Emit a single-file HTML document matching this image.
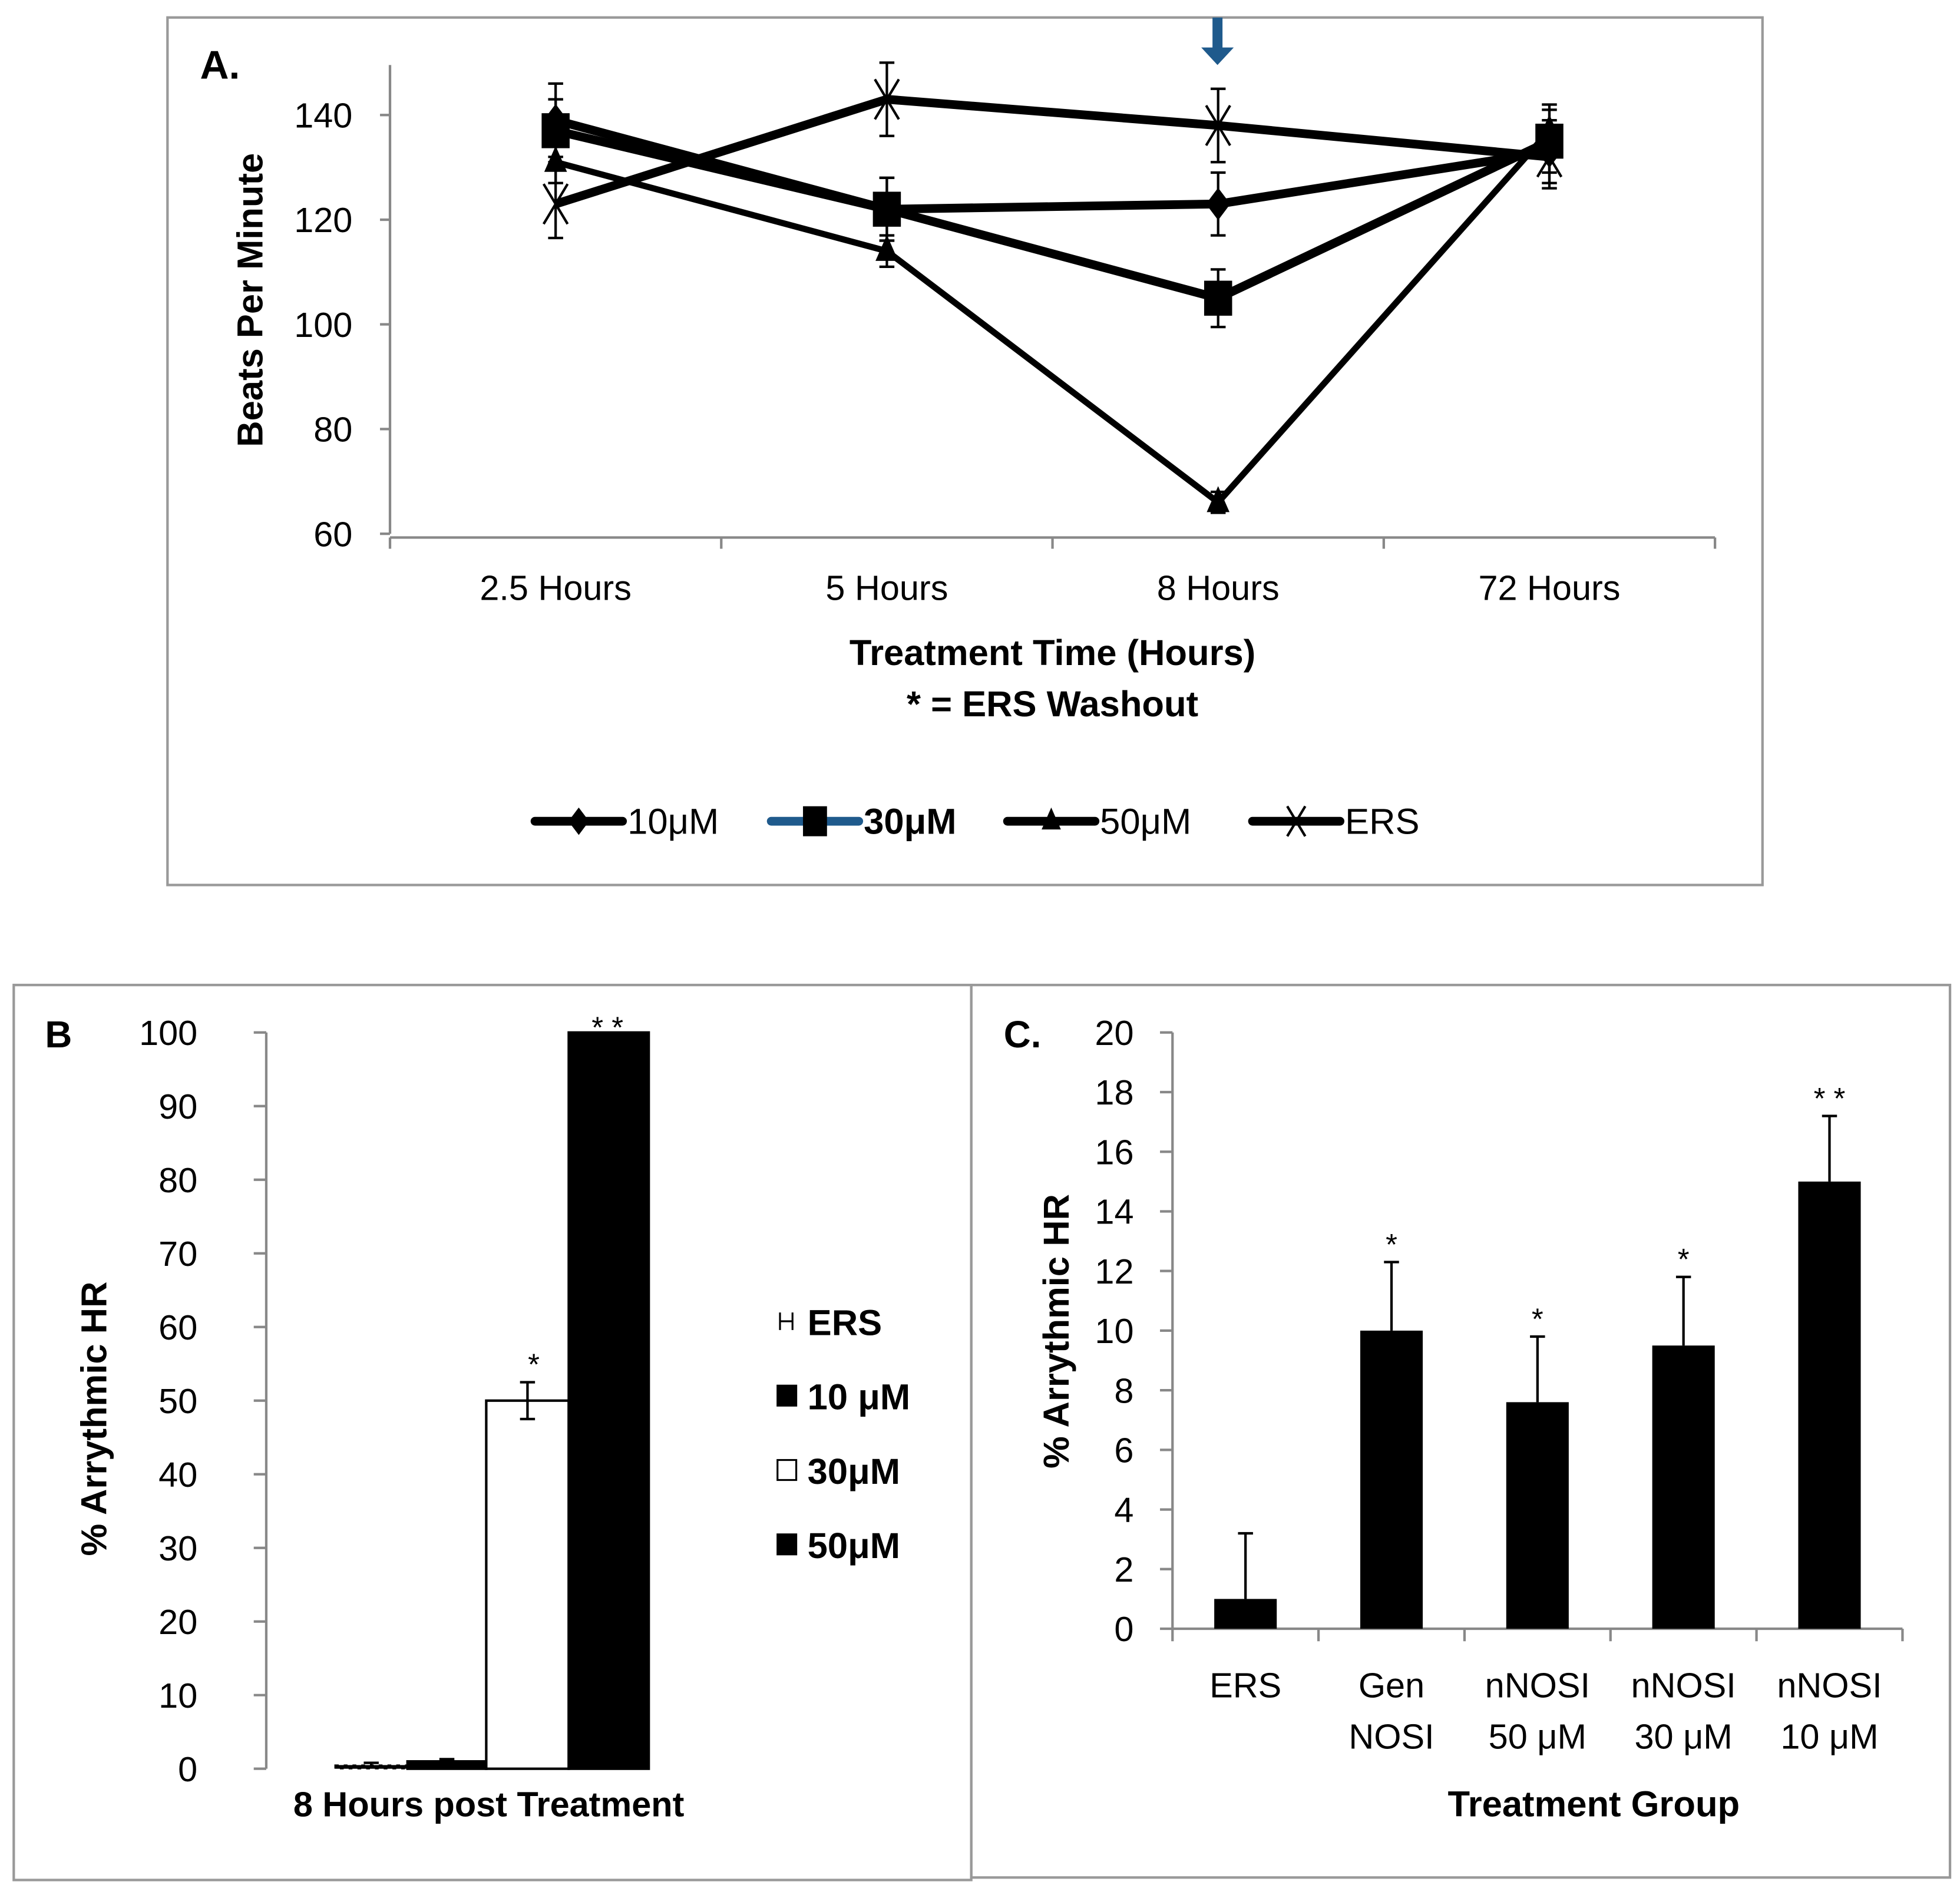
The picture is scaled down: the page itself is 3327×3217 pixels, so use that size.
<!DOCTYPE html>
<html><head><meta charset="utf-8">
<style>
html,body{margin:0;padding:0;background:#fff;}
svg{display:block;}
text{font-family:"Liberation Sans Narrow","Liberation Sans",sans-serif;fill:#000;}
</style></head>
<body>
<svg id="fig" xmlns="http://www.w3.org/2000/svg" width="3327" height="3217" viewBox="0 0 1568 1516" preserveAspectRatio="none">
<rect x="0" y="0" width="1568" height="1516" fill="#fff"/>
<rect x="134" y="14" width="1276" height="694" fill="none" stroke="#999" stroke-width="2"/>
<rect x="11" y="788" width="766" height="716" fill="none" stroke="#999" stroke-width="2"/>
<rect x="777" y="788" width="783" height="714" fill="none" stroke="#999" stroke-width="2"/>
<g id="gA"></g>
<g id="gB"></g>
<g id="gC"></g>
</svg>
<script>
// ---------- Panel A data ----------
const aCategories = ["2.5 Hours","5 Hours","8 Hours","72 Hours"];
const aTicks = [60,80,100,120,140];
const a10 = [139,122,123,133];
const a10err = [7,6,6,6];
const a30 = [137,122,105,135];
const a30err = [6,6,5.5,6];
const a50 = [131,114,66,137];
const a50err = [4,3,2,5];
const aERS = [123,143,138,132];
const aERSerr = [6.5,7,7,6];
// ---------- Panel B data ----------
const bSeries = ["ERS","10 μM","30μM","50μM"];
const bValues = [0.5,1,50,100];
const bErr = [0.3,0.3,2.5,0];
const bTicks = [0,10,20,30,40,50,60,70,80,90,100];
// ---------- Panel C data ----------
const cCat1 = ["ERS","Gen","nNOSI","nNOSI","nNOSI"];
const cCat2 = ["","NOSI","50 μM","30 μM","10 μM"];
const cValues = [1,10,7.6,9.5,15];
const cErr = [2.2,2.3,2.2,2.3,2.2];
const cStars = ["","*","*","*","* *"];
const cTicks = [0,2,4,6,8,10,12,14,16,18,20];

const NS="http://www.w3.org/2000/svg";
function mk(parent,tag,attrs,txt){const e=document.createElementNS(NS,tag);for(const k in attrs)e.setAttribute(k,attrs[k]);if(txt!==undefined)e.textContent=txt;parent.appendChild(e);return e;}

// ===== Panel A =====
const gA=document.getElementById('gA');
const aX0=312,aX1=1372,aYb=427,aYt=52;
const ay=v=>aYb-(v-60)*(83.75/20);
const ax=i=>aX0+(i+0.5)*(aX1-aX0)/aCategories.length;
let e;
e=mk(gA,'text',{x:160,y:63,'font-size':32,'font-weight':'bold','font-family':'Liberation Sans'},'A.');

e=mk(gA,'line',{x1:aX0,y1:aYt,x2:aX0,y2:aYb,stroke:'#888','stroke-width':2});

e=mk(gA,'line',{x1:aX0,y1:aYb+3,x2:aX1,y2:aYb+3,stroke:'#888','stroke-width':2});

aTicks.forEach(t=>{
  e=mk(gA,'line',{x1:aX0-8,y1:ay(t),x2:aX0,y2:ay(t),stroke:'#888','stroke-width':2});
  
  e=mk(gA,'text',{x:aX0-30,y:ay(t)+10,'font-size':28,'text-anchor':'end'},t);
  
});
for(let i=0;i<=aCategories.length;i++){
  const x=aX0+i*(aX1-aX0)/aCategories.length;
  e=mk(gA,'line',{x1:x,y1:aYb+3,x2:x,y2:aYb+12,stroke:'#888','stroke-width':2});
  
}
aCategories.forEach((c,i)=>{
  e=mk(gA,'text',{x:ax(i),y:480,'font-size':28,'text-anchor':'middle'},c);
  
});
e=mk(gA,'text',{x:842,y:532,'font-size':29,'font-weight':'bold','text-anchor':'middle'},'Treatment Time (Hours)');

e=mk(gA,'text',{x:842,y:573,'font-size':29,'font-weight':'bold','text-anchor':'middle'},'* = ERS Washout');

e=mk(gA,'text',{x:0,y:0,'font-size':29,'font-weight':'bold','text-anchor':'middle','font-family':'Liberation Sans',transform:'translate(210,240) rotate(-90)'},'Beats Per Minute');

// washout arrow
e=mk(gA,'path',{d:'M970 14 V38 H961 L974 52 L987 38 H978 V14 Z',fill:'#1f5a8c'});


function marker(g,type,x,y,s){
  if(type==='diamond')return mk(g,'path',{d:`M${x} ${y-s} L${x+s*0.75} ${y} L${x} ${y+s} L${x-s*0.75} ${y} Z`,fill:'#000'});
  if(type==='square')return mk(g,'rect',{x:x-s*0.8,y:y-s,width:s*1.6,height:s*2,fill:'#000'});
  if(type==='triangle')return mk(g,'path',{d:`M${x} ${y-s} L${x+s*0.7} ${y+s*0.6} L${x-s*0.7} ${y+s*0.6} Z`,fill:'#000'});
  return mk(g,'path',{d:`M${x-s*0.6} ${y-s} L${x+s*0.6} ${y+s} M${x+s*0.6} ${y-s} L${x-s*0.6} ${y+s}`,stroke:'#000','stroke-width':2,fill:'none'});
}
const aSeries=[
  {name:'ERS',vals:aERS,err:aERSerr,m:'x',w:7},
  {name:'50uM',vals:a50,err:a50err,m:'triangle',w:5},
  {name:'10uM',vals:a10,err:a10err,m:'diamond',w:7},
  {name:'30uM',vals:a30,err:a30err,m:'square',w:7},
];
aSeries.forEach(s=>{
  const pts=s.vals.map((v,i)=>ax(i)+','+ay(v)).join(' ');
  e=mk(gA,'polyline',{points:pts,fill:'none',stroke:'#000','stroke-width':s.w,'stroke-linejoin':'round'});
  
  s.vals.forEach((v,i)=>{
    const x=ax(i);
    e=mk(gA,'path',{d:`M${x} ${ay(v+s.err[i])} V${ay(v-s.err[i])} M${x-6} ${ay(v+s.err[i])} H${x+6} M${x-6} ${ay(v-s.err[i])} H${x+6}`,stroke:'#000','stroke-width':2,fill:'none'});
    
    e=marker(gA,s.m,x,ay(v),s.m==='square'?14:(s.m==='x'?16:13));
    
  });
});
// legend
const leg=[{l:'10μM',m:'diamond',x:428,c:'#000',b:false},{l:'30μM',m:'square',x:617,c:'#1f5a8c',b:true},{l:'50μM',m:'triangle',x:806,c:'#000',b:false},{l:'ERS',m:'x',x:1002,c:'#000',b:false}];
leg.forEach(L=>{
  const g=mk(gA,'g',{});
  
  mk(g,'line',{x1:L.x,y1:657,x2:L.x+70,y2:657,stroke:L.c,'stroke-width':7,'stroke-linecap':'round'});
  marker(g,L.m,L.x+35,657,L.m==='square'?12:(L.m==='x'?12:11));
  mk(g,'text',{x:L.x+74,y:667,'font-size':29,'font-weight':L.b?'bold':'normal'},L.l);
});

// ===== Panel B =====
const gB=document.getElementById('gB');
const bX=213,bYb=1415,bYt=826;
const by=v=>bYb-v*(bYb-bYt)/100;
e=mk(gB,'text',{x:36,y:838,'font-size':30,'font-weight':'bold','font-family':'Liberation Sans'},'B');

e=mk(gB,'line',{x1:bX,y1:bYt,x2:bX,y2:bYb,stroke:'#888','stroke-width':2});

bTicks.forEach(t=>{
  e=mk(gB,'line',{x1:bX-10,y1:by(t),x2:bX,y2:by(t),stroke:'#888','stroke-width':2});
  
  e=mk(gB,'text',{x:158,y:by(t)+10,'font-size':28,'text-anchor':'end'},t);
  
});
const bBarX=[268,326,389,455],bBarW=[58,63,66,64];
bValues.forEach((v,i)=>{
  const fill=i===2?'#fff':'#000';
  e=mk(gB,'rect',{x:bBarX[i],y:by(v),width:bBarW[i],height:bYb-by(v),fill:fill,stroke:'#000','stroke-width':i===0?1:2,'stroke-dasharray':i===0?'3 4':'none'});
  
  if(bErr[i]>0){
    const cx=bBarX[i]+bBarW[i]/2;
    e=mk(gB,'path',{d:`M${cx} ${by(v+bErr[i])} V${by(v-bErr[i])} M${cx-6} ${by(v+bErr[i])} H${cx+6} M${cx-6} ${by(v-bErr[i])} H${cx+6}`,stroke:'#000','stroke-width':2,fill:'none'});
    
  }
});
e=mk(gB,'text',{x:427,y:by(bValues[2]+bErr[2])-6,'font-size':24,'text-anchor':'middle'},'*');

e=mk(gB,'text',{x:486,y:by(100)+4,'font-size':24,'text-anchor':'middle'},'* *');

e=mk(gB,'text',{x:391,y:1453,'font-size':28,'font-weight':'bold','text-anchor':'middle'},'8 Hours post Treatment');

e=mk(gB,'text',{x:0,y:0,'font-size':29,'font-weight':'bold','text-anchor':'middle','font-family':'Liberation Sans',transform:'translate(85,1135) rotate(-90)'},'% Arrythmic HR');

bSeries.forEach((s,i)=>{
  const y=1057+i*59.5;
  const g=mk(gB,'g',{});
  
  if(i===0){mk(g,'path',{d:`M624 ${y-7} V${y+7} M634 ${y-7} V${y+7} M624 ${y} H634`,stroke:'#000','stroke-width':1.5});}
  else mk(g,'rect',{x:622,y:y-8,width:15,height:16,fill:i===2?'#fff':'#000',stroke:'#000','stroke-width':1.5});
  mk(g,'text',{x:646,y:y+11,'font-size':29,'font-weight':'bold'},s);
});

// ===== Panel C =====
const gC=document.getElementById('gC');
const cX0=938,cX1=1522,cYb=1303,cYt=826;
const cy=v=>cYb-v*(cYb-cYt)/20;
const cw=(cX1-cX0)/cValues.length;
e=mk(gC,'text',{x:803,y:838,'font-size':30,'font-weight':'bold','font-family':'Liberation Sans'},'C.');

e=mk(gC,'line',{x1:cX0,y1:cYt,x2:cX0,y2:cYb,stroke:'#888','stroke-width':2});

e=mk(gC,'line',{x1:cX0,y1:cYb,x2:cX1,y2:cYb,stroke:'#888','stroke-width':2});

cTicks.forEach(t=>{
  e=mk(gC,'line',{x1:cX0-10,y1:cy(t),x2:cX0,y2:cy(t),stroke:'#888','stroke-width':2});
  
  e=mk(gC,'text',{x:907,y:cy(t)+10,'font-size':28,'text-anchor':'end'},t);
  
});
for(let i=0;i<=cValues.length;i++){
  e=mk(gC,'line',{x1:cX0+i*cw,y1:cYb,x2:cX0+i*cw,y2:cYb+10,stroke:'#888','stroke-width':2});
  
}
cValues.forEach((v,i)=>{
  const cx=cX0+(i+0.5)*cw;
  e=mk(gC,'path',{d:`M${cx} ${cy(v)} V${cy(v+cErr[i])} M${cx-6} ${cy(v+cErr[i])} H${cx+6}`,stroke:'#000','stroke-width':2,fill:'none'});
  
  e=mk(gC,'rect',{x:cx-25,y:cy(v),width:50,height:cYb-cy(v),fill:'#000'});
  
  if(cStars[i]){
    e=mk(gC,'text',{x:cx,y:cy(v+cErr[i])-6,'font-size':24,'text-anchor':'middle'},cStars[i]);
    
  }
  e=mk(gC,'text',{x:cx,y:1358,'font-size':28,'text-anchor':'middle'},cCat1[i]);
  
  if(cCat2[i]){
    e=mk(gC,'text',{x:cx,y:1399,'font-size':28,'text-anchor':'middle'},cCat2[i]);
    
  }
});
e=mk(gC,'text',{x:1275,y:1453,'font-size':29,'font-weight':'bold','text-anchor':'middle'},'Treatment Group');

e=mk(gC,'text',{x:0,y:0,'font-size':29,'font-weight':'bold','text-anchor':'middle','font-family':'Liberation Sans',transform:'translate(855,1065) rotate(-90)'},'% Arrythmic HR');

</script>
</body></html>
